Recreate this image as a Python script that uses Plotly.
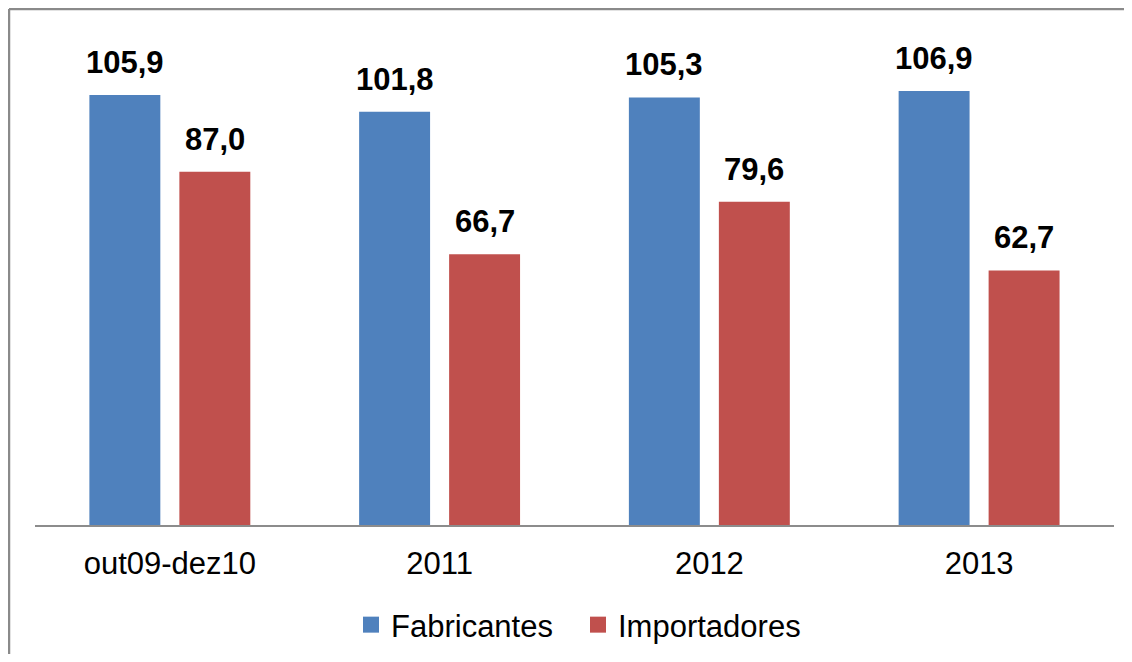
import plotly.graph_objects as go

categories = ["out09-dez10", "2011", "2012", "2013"]
fabricantes = [105.9, 101.8, 105.3, 106.9]
importadores = [87.0, 66.7, 79.6, 62.7]
series_names = ["Fabricantes", "Importadores"]
colors = ["#4F81BD", "#C0504D"]

# page has an 8px body margin; work in page coordinates
OFF = 8
W, H = 1132 - 2 * OFF, 662 - 2 * OFF
PL, PR, PT, PB = 35, 1114, 38, 525      # plot area in page px
ML, MT = PL - OFF, PT - OFF
MR = (OFF + W) - PR
MB = (OFF + H) - PB
PW, PH = PR - PL, PB - PT

def px2x(px):
    return (px - PL) / PW

def py2y(py):
    return (PB - py) / PH

def py2cont(py):
    return 1 - (py - OFF) / H

FONT = "Liberation Sans, Arial, sans-serif"
FS = 31
bar_w = 0.263
offsets = [-0.2984, 0.0352]
idx = list(range(len(categories)))

fig = go.Figure()
for name, vals, col, off in zip(series_names, [fabricantes, importadores], colors, offsets):
    fig.add_trace(go.Bar(
        x=idx, y=vals, name=name, width=bar_w, offset=off,
        marker=dict(color=col, line=dict(width=0)), showlegend=False,
    ))
for name, col in zip(series_names, colors):
    # legend proxy
    fig.add_trace(go.Scatter(
        x=[0], y=[None], mode="markers", name=name,
        marker=dict(symbol="square", size=16, color=col),
    ))

annotations = []
for vals, off in zip([fabricantes, importadores], offsets):
    for i, v in zip(idx, vals):
        annotations.append(dict(
            x=i + off + bar_w / 2, y=v, xref="x", yref="y",
            text=f"{v:.1f}".replace(".", ","),
            showarrow=False, yanchor="bottom", xanchor="center", yshift=13,
            font=dict(family=FONT, size=FS, color="black", weight="bold"),
        ))

border = dict(color="#8A8A8A", width=2.5)
fig.update_layout(
    width=W, height=H,
    margin=dict(l=ML, r=MR, t=MT, b=MB, pad=0, autoexpand=False),
    paper_bgcolor="white", plot_bgcolor="white",
    barmode="overlay",
    font=dict(family=FONT, size=FS, color="black"),
    annotations=annotations,
    showlegend=True,
    legend=dict(orientation="h", x=px2x(351), xanchor="left",
                yref="container", y=py2cont(625), yanchor="middle",
                font=dict(family=FONT, size=FS, color="black"),
                entrywidth=182, tracegroupgap=0, bgcolor="rgba(0,0,0,0)"),
    xaxis=dict(range=[-0.5, 3.5], showgrid=False, showline=True,
               linecolor="#8C8C8C", linewidth=2,
               tickmode="array", tickvals=idx, ticktext=categories,
               ticks="", ticklabelstandoff=10,
               tickfont=dict(family=FONT, size=FS, color="black"),
               zeroline=False, fixedrange=True),
    yaxis=dict(range=[0, PH / 4.06], visible=False, showgrid=False, zeroline=False),
    shapes=[
        dict(type="line", xref="paper", yref="paper",
             x0=px2x(9), x1=px2x(1150), y0=py2y(9), y1=py2y(9),
             line=border, layer="above"),
        dict(type="line", xref="paper", yref="paper",
             x0=px2x(9), x1=px2x(9), y0=py2y(9), y1=py2y(680),
             line=border, layer="above"),
    ],
)

fig.write_html("out.html")
